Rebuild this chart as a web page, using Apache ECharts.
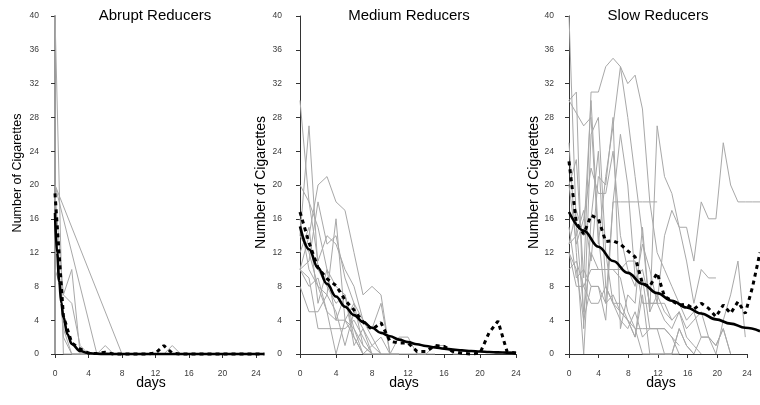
<!DOCTYPE html>
<html><head><meta charset="utf-8">
<script src="https://cdn.jsdelivr.net/npm/echarts@6/dist/echarts.min.js"></script>
<style>html,body{margin:0;padding:0;background:#fff}#c{width:760px;height:405px}</style>
</head><body><div id="c"></div>
<script>
// ---------- data ----------
var days = [0,1,2,3,4,5,6,7,8,9,10,11,12,13,14,15,16,17,18,19,20,21,22,23,24,25,26];
var xTicks = [0,4,8,12,16,20,24];
var yTicks = [0,4,8,12,16,20,24,28,32,36,40];
var panelTitles = ['Abrupt Reducers','Medium Reducers','Slow Reducers'];

// Abrupt reducers: individual trajectories (null = no observation that day)
var abruptSubjects = [
  [40,0,0,0,0,0,0,0,0,0,0,0,0,0,0],
  [20,null,null,null,null,null,null,null,0,0,0,0,0],
  [20,null,null,null,null,0,1,0,0,0],
  [10,7,10,0,0,0,0],
  [19,7,6,1,0,0,0,0,0,0,0,0],
  [17,2,0,0,0,0,0,0,0,0,0,0,0,0,1,0,0],
  [16,3,0,0,0,0]
];
var abruptMean = [19,4.5,1.3,0.6,0.1,0.05,0.2,0,0,0,0,0,0.1,1,0.1,0,0,0,0,0,0,0,0,0,0,0];
var abruptFitDays = [0,0.25,0.5,0.75,1,1.5,2,3,4,5,6,8,12,16,20,25];
var abruptFit = [16.7,12,8.6,6.1,4.4,2.3,1.2,0.35,0.1,0.03,0.01,0,0,0,0,0];

// Medium reducers
var mediumSubjects = [
  [30,18,15,10,8,7,3,1,0],
  [14,27,10,8,6,7,2,0,0],
  [20,18,11,14,13,10,8,4,2,0],
  [10,14,20,21,18,17,12,7,8,7,0],
  [10,11,18,13,14,9,6,4,3,6,0,0],
  [8,5,5,7,16,4,2,0],
  [10,9,3,3,3,3,4,2,0,0,0,0],
  [16,10,8,5,0,4,6,1,0],
  [12,15,6,10,4,7,1,3,1,2,0,2,2,0,0,0],
  [10,8,9,5,4,4,3,0,1,0,0,0,0,0,0,1,1,0,0],
  [14,12,8,7,5,1,5,3,0,0]
];
var mediumMean = [16.8,13.2,10.2,8.9,8.1,6.4,5.2,3.8,2.9,3.7,1.5,1.3,1.3,0.3,0.3,1.0,0.9,0.3,0.1,0,0.1,2.5,3.9,0.3,0.1];
var mediumFit = [15.1,12.4,10.2,8.3,6.8,5.6,4.6,3.8,3.1,2.5,2.1,1.7,1.4,1.15,0.95,0.78,0.64,0.52,0.43,0.35,0.29,0.24,0.19,0.16,0.13];

// Slow reducers
var slowSubjects = [
  [40,15,5,12,10,10,10,10,11,11,6,6,6,6,4,5,2,1,0],
  [30,31,3,26,28,12,6,6,4,2,7,0,0,0,0,3,1,0],
  [30,28.5,27,28,13,21,27,34,28,21,14,5,7,5,4],
  [20,23,9,31,31,34,35,34,32,33,29,18,12,10,8,6,4,5,2,2,1,3,0],
  [15,9,10,8,8,6,7,5,4,2,9,3,3,3,2,1],
  [12,10,4,8,8,4,18,18,18,18,18,18,18],
  [13,14,17,11,21,20,28,3,7,6,15,5,27,21,19,15,15,11,18,16,16,25,20,18,18,18,18],
  [20,13,16,22,19,19,24,14,10,8,13,10,6,14,17,15,11,6,10,9,9],
  [10,11,8,10,10,10,10,9,5,3,0,0,0,0,0,3,1,0,2,2,1,3,0],
  [25,12,0,16,24,8,6,4,3,5,2,3,3,3,2,0],
  [13,17,14,30,14,6,18,26,20,9,10,6,6,4,3,5,3,4,5,2,0,4,7,11,2],
  [12,8,8,6,6,8,6,5,4,3,3,3,3,0,0,0]
];
var slowMean = [22.8,15.5,14.2,16.4,16,13.3,13.4,13,12.2,11.5,8.3,8,9.6,6.8,6.3,5.8,5.9,5.3,6,5.4,4.4,5.8,4.8,6.2,4.8,8,12];
var slowFitDays = [0,2,4,6,8,10,12,14,16,18,20,22,24,26];
var slowFit = [16.8,14.6,12.7,11.0,9.6,8.3,7.2,6.3,5.5,4.8,4.1,3.6,3.1,2.7];

// ---------- build ----------
function pairs(xs, vs){
  var out=[]; for(var i=0;i<vs.length;i++){ if(vs[i]!=null) out.push([xs[i], vs[i]]); } return out;
}
var FONT = 'Liberation Sans, Arial, Helvetica, sans-serif';
var panels = [
  {left:55, width:201, xMax:26, yOff:8, subjects:abruptSubjects, mean:abruptMean, fitX:abruptFitDays, fit:abruptFit, yAxisColor:'#9a9a9a', yAxisW:2},
  {left:300, width:216, xMax:26, yOff:10, subjects:mediumSubjects, mean:mediumMean, fitX:days, fit:mediumFit, yAxisColor:'#333', yAxisW:1},
  {left:569, width:178, xMax:26, yOff:7, subjects:slowSubjects, mean:slowMean, fitX:slowFitDays, fit:slowFit, yAxisColor:'#333', yAxisW:1}
];
var grids=[], xAxes=[], yAxes=[], series=[];
panels.forEach(function(p, k){
  // axis grid: spans exactly 0..24 days and 0..40 cigarettes
  var ai = grids.length;
  grids.push({left:p.left, top:16, width:p.width, height:338});
  xAxes.push({type:'value', gridIndex:ai, min:0, max:24, interval:4, offset:5,
    axisLine:{show:true, lineStyle:{color:'#333', width:1}},
    axisTick:{show:true, length:4, lineStyle:{color:'#333'}},
    axisLabel:{show:true, fontSize:8.5, color:'#3a3a3a', margin:10, fontFamily:FONT},
    splitLine:{show:false}});
  yAxes.push({type:'value', gridIndex:ai, min:0, max:40, interval:4, offset:p.yOff,
    axisLine:{show:true, lineStyle:{color:p.yAxisColor, width:p.yAxisW}},
    axisTick:{show:true, length:4, lineStyle:{color:'#333'}},
    axisLabel:{show:true, fontSize:8.5, color:'#3a3a3a', margin:8, fontFamily:FONT},
    splitLine:{show:false}});
  // data grid: same scale, extended to the right so the curves run past day 24
  var di = grids.length;
  grids.push({left:p.left, top:16, width:p.width*p.xMax/24, height:338});
  xAxes.push({type:'value', gridIndex:di, min:0, max:p.xMax, show:false});
  yAxes.push({type:'value', gridIndex:di, min:0, max:40, show:false});
  p.subjects.forEach(function(s){
    series.push({type:'line', xAxisIndex:di, yAxisIndex:di, data:pairs(days, s), symbol:'none', clip:false,
      lineStyle:{color:'#a8a8a8', width:1}, silent:true, z:2});
  });
  series.push({type:'line', xAxisIndex:di, yAxisIndex:di, data:pairs(days, p.mean), symbol:'none', clip:false,
    lineStyle:{color:'#000', width:3, type:[4,4]}, silent:true, z:4});
  series.push({type:'line', xAxisIndex:di, yAxisIndex:di, data:pairs(p.fitX, p.fit), symbol:'none', clip:false,
    smooth:0.4, smoothMonotone:'x', lineStyle:{color:'#000', width:2.6}, silent:true, z:5});
});

var titleX=[155,409,658], ynameX=[17.5,261,534], ynameY=[173,182.5,182.5], ynameSize=[12.5,14,14], daysX=[151,404,661];
var graphics=[];
for(var k=0;k<3;k++){
  graphics.push({type:'text', x:titleX[k], y:16, style:{text:panelTitles[k], textAlign:'center', textVerticalAlign:'middle', fontSize:15, fontFamily:FONT, fill:'#000'}});
  graphics.push({type:'text', x:ynameX[k], y:ynameY[k], rotation:Math.PI/2, style:{text:'Number of Cigarettes', textAlign:'center', textVerticalAlign:'middle', fontSize:ynameSize[k], fontFamily:FONT, fill:'#000'}});
  graphics.push({type:'text', x:daysX[k], y:383, style:{text:'days', textAlign:'center', textVerticalAlign:'middle', fontSize:14, fontFamily:FONT, fill:'#000'}});
}

var chart = echarts.init(document.getElementById('c'), null, {renderer:'canvas'});
chart.setOption({animation:false, backgroundColor:'#fff', grid:grids, xAxis:xAxes, yAxis:yAxes, series:series, graphic:graphics});
</script></body></html>
